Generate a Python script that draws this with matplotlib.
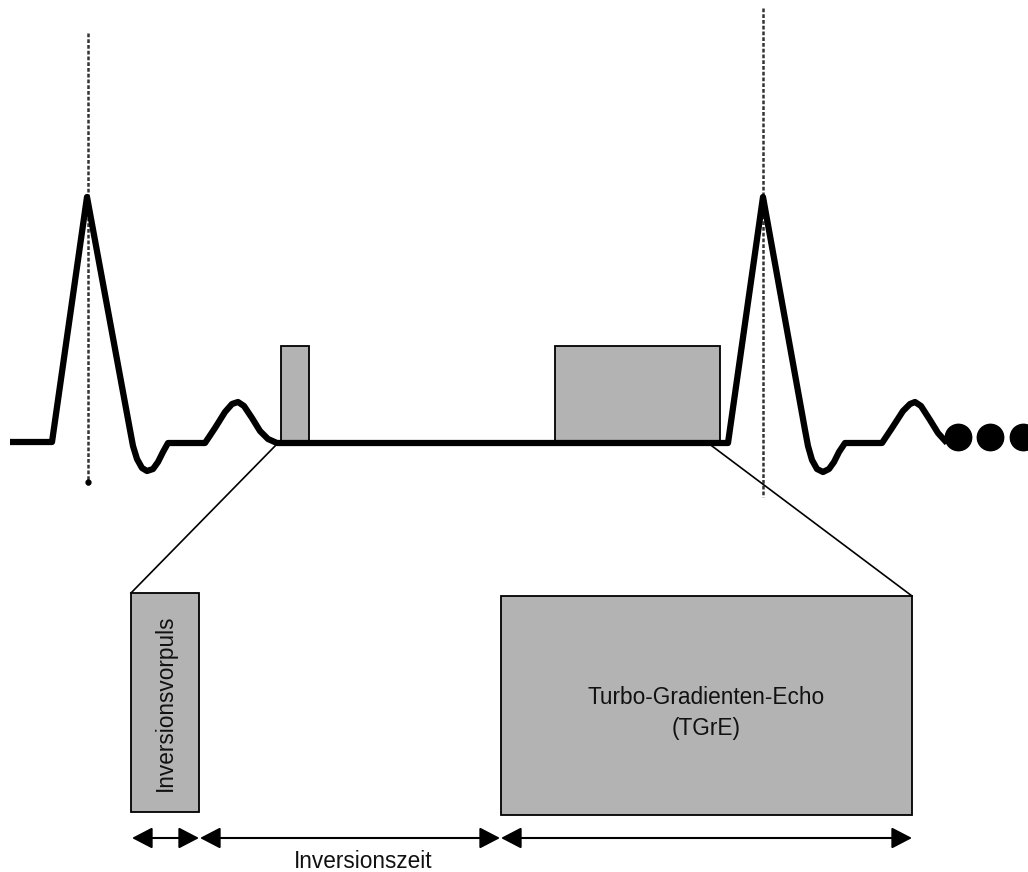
import matplotlib
matplotlib.use("Agg")
import matplotlib.pyplot as plt
from matplotlib.patches import Rectangle

plt.rcParams['font.family'] = ['Liberation Sans', 'DejaVu Sans']

# ECG trace (figure pixel coordinates, y downward)
ecg_x = [10, 52, 87, 130, 133, 137, 142, 147, 153, 158, 163, 168, 205, 215, 225, 232, 238, 244, 252, 260, 268, 277,
         728, 763, 805, 808, 812, 817, 823, 829, 834, 839, 845, 882, 892, 903, 910, 915, 921, 930, 938, 947]
ecg_y = [442, 442, 197, 430, 446, 459, 468, 471, 469, 462, 452, 443, 443, 428, 412, 404, 402, 406, 418, 431, 439, 443,
         443, 197, 430, 446, 460, 469, 472, 469, 462, 452, 443, 443, 428, 411, 404, 402, 406, 420, 433, 443]

# continuation dots
dot_x = [958, 990, 1023]
dot_y = [437, 437, 437]

# trigger lines (R-peaks)
trig_x = [88, 763]
trig_top = [33, 8]
trig_bot = [485, 497]

# pulse blocks on the trace: (x0, x1, top, bottom)
pulses = [(281, 309, 346, 444), (555, 720, 346, 444)]

# enlarged blocks below: (x0, x1, top, bottom)
blocks = [(131, 199, 593, 812), (501, 912, 596, 815)]

# zoom lines
zoom_lines = [((277, 444), (131, 593)), ((712, 446), (912, 596))]

# timing arrows
arrow_y = 838
arrow_spans = [(132, 199), (200, 500), (501, 912)]
arrow_label = "Inversionszeit"

gray = '#b3b3b3'

fig = plt.figure(figsize=(10.28, 8.72), dpi=100)
ax = fig.add_axes([0, 0, 1, 1])
ax.set_xlim(0, 1028)
ax.set_ylim(872, 0)
ax.axis('off')

for x, t, b in zip(trig_x, trig_top, trig_bot):
    ax.plot([x, x], [t, b], color='#333333', lw=1.8, ls=(0, (1.5, 0.8)), zorder=1)
ax.plot([trig_x[0]], [482], 'o', color='k', ms=3.5, zorder=2)

for x0, x1, t, b in pulses:
    ax.add_patch(Rectangle((x0, t), x1 - x0, b - t, facecolor=gray, edgecolor='k', lw=1.3, zorder=2))

ax.plot(ecg_x, ecg_y, color='k', lw=4.5, solid_joinstyle='round', solid_capstyle='butt', zorder=3)
ax.plot(dot_x, dot_y, 'o', color='k', ms=19, zorder=3)

for (a, b) in zoom_lines:
    ax.plot([a[0], b[0]], [a[1], b[1]], color='k', lw=1.2, zorder=2)

for x0, x1, t, b in blocks:
    ax.add_patch(Rectangle((x0, t), x1 - x0, b - t, facecolor=gray, edgecolor='k', lw=1.3, zorder=2))

ax.text((blocks[0][0] + blocks[0][1]) / 2, (blocks[0][2] + blocks[0][3]) / 2, "Inversionsvorpuls",
        rotation=90, ha='center', va='center', fontsize=16.3, color='#111111')
ax.text((blocks[1][0] + blocks[1][1]) / 2, 713, "Turbo-Gradienten-Echo\n(TGrE)",
        ha='center', va='center', fontsize=16.3, color='#111111', linespacing=1.45)

for x0, x1 in arrow_spans:
    ax.annotate('', xy=(x1, arrow_y), xytext=(x0, arrow_y),
                arrowprops=dict(arrowstyle='<|-|>,head_length=1.25,head_width=0.65', mutation_scale=10,
                                color='k', lw=1.5, shrinkA=0, shrinkB=0))
ax.text(363, 861, arrow_label, ha='center', va='center', fontsize=16.3, color='#111111')

fig.savefig('out.png', dpi=100)
